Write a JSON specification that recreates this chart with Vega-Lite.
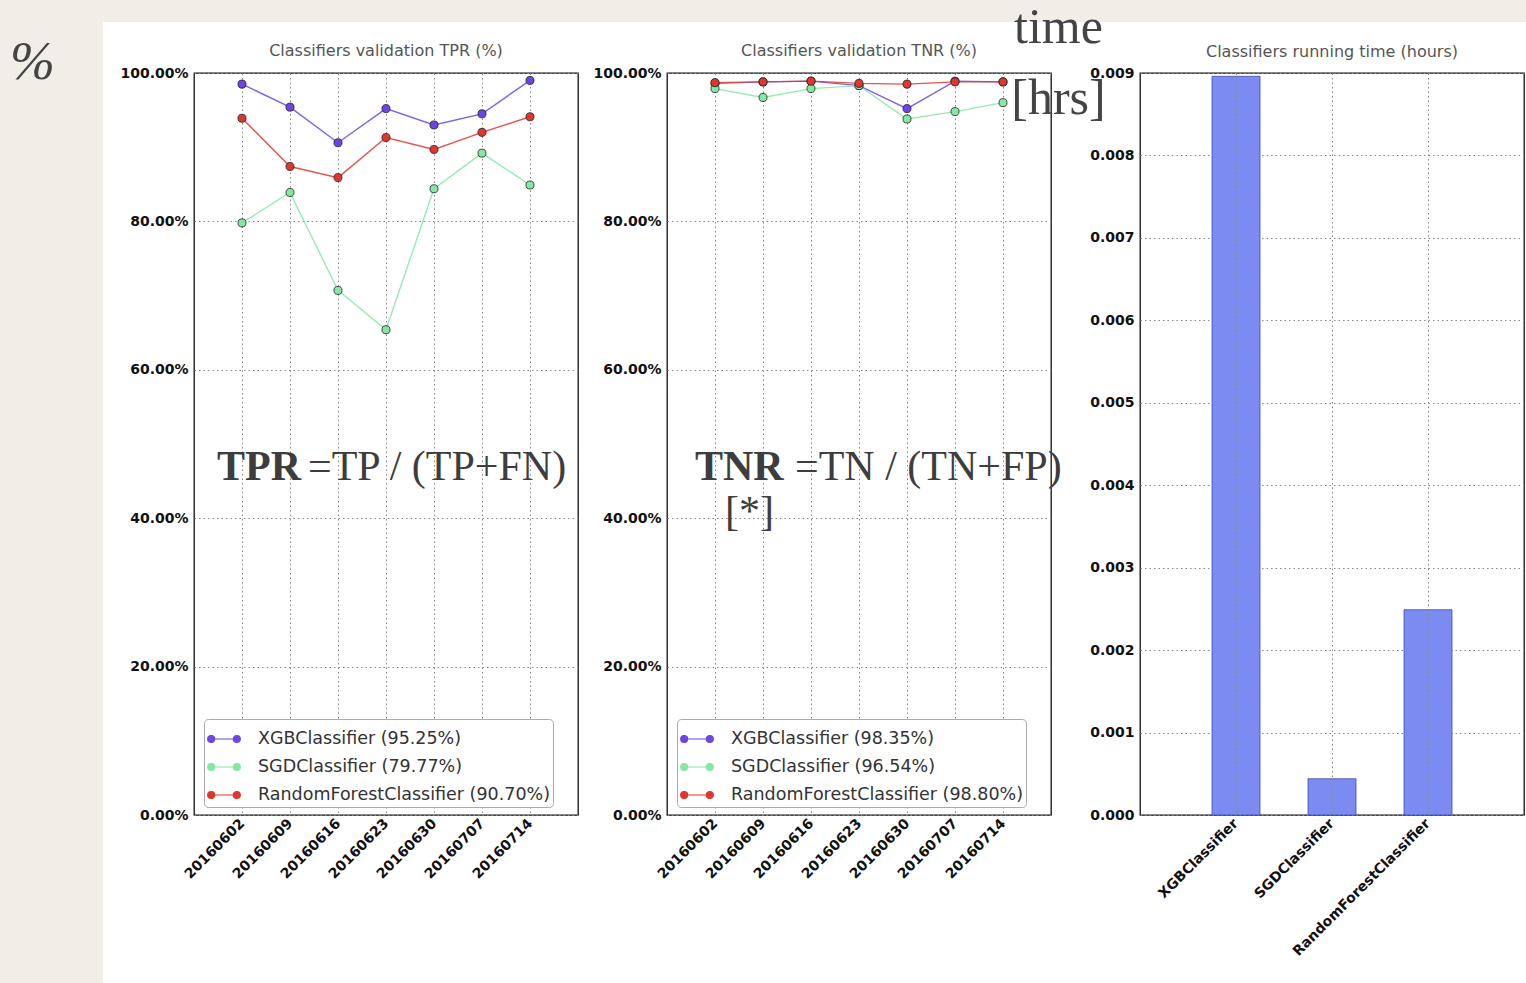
{
  "$schema": "https://vega.github.io/schema/vega-lite/v6.json",
  "background": "#ffffff",
  "padding": 0,
  "datasets": {
    "tpr": [
      {"date": "20160602", "series": "XGBClassifier (95.25%)", "value": 98.5},
      {"date": "20160609", "series": "XGBClassifier (95.25%)", "value": 95.4},
      {"date": "20160616", "series": "XGBClassifier (95.25%)", "value": 90.6},
      {"date": "20160623", "series": "XGBClassifier (95.25%)", "value": 95.2},
      {"date": "20160630", "series": "XGBClassifier (95.25%)", "value": 93.0},
      {"date": "20160707", "series": "XGBClassifier (95.25%)", "value": 94.5},
      {"date": "20160714", "series": "XGBClassifier (95.25%)", "value": 99.0},
      {"date": "20160602", "series": "SGDClassifier (79.77%)", "value": 79.8},
      {"date": "20160609", "series": "SGDClassifier (79.77%)", "value": 83.9},
      {"date": "20160616", "series": "SGDClassifier (79.77%)", "value": 70.7},
      {"date": "20160623", "series": "SGDClassifier (79.77%)", "value": 65.4},
      {"date": "20160630", "series": "SGDClassifier (79.77%)", "value": 84.4},
      {"date": "20160707", "series": "SGDClassifier (79.77%)", "value": 89.2},
      {"date": "20160714", "series": "SGDClassifier (79.77%)", "value": 84.9},
      {"date": "20160602", "series": "RandomForestClassifier (90.70%)", "value": 93.9},
      {"date": "20160609", "series": "RandomForestClassifier (90.70%)", "value": 87.4},
      {"date": "20160616", "series": "RandomForestClassifier (90.70%)", "value": 85.9},
      {"date": "20160623", "series": "RandomForestClassifier (90.70%)", "value": 91.3},
      {"date": "20160630", "series": "RandomForestClassifier (90.70%)", "value": 89.7},
      {"date": "20160707", "series": "RandomForestClassifier (90.70%)", "value": 92.0},
      {"date": "20160714", "series": "RandomForestClassifier (90.70%)", "value": 94.1}
    ],
    "tnr": [
      {"date": "20160602", "series": "XGBClassifier (98.35%)", "value": 98.6},
      {"date": "20160609", "series": "XGBClassifier (98.35%)", "value": 98.8},
      {"date": "20160616", "series": "XGBClassifier (98.35%)", "value": 98.9},
      {"date": "20160623", "series": "XGBClassifier (98.35%)", "value": 98.3},
      {"date": "20160630", "series": "XGBClassifier (98.35%)", "value": 95.2},
      {"date": "20160707", "series": "XGBClassifier (98.35%)", "value": 98.9},
      {"date": "20160714", "series": "XGBClassifier (98.35%)", "value": 98.8},
      {"date": "20160602", "series": "SGDClassifier (96.54%)", "value": 97.9},
      {"date": "20160609", "series": "SGDClassifier (96.54%)", "value": 96.7},
      {"date": "20160616", "series": "SGDClassifier (96.54%)", "value": 97.9},
      {"date": "20160623", "series": "SGDClassifier (96.54%)", "value": 98.3},
      {"date": "20160630", "series": "SGDClassifier (96.54%)", "value": 93.8},
      {"date": "20160707", "series": "SGDClassifier (96.54%)", "value": 94.8},
      {"date": "20160714", "series": "SGDClassifier (96.54%)", "value": 96.0},
      {"date": "20160602", "series": "RandomForestClassifier (98.80%)", "value": 98.7},
      {"date": "20160609", "series": "RandomForestClassifier (98.80%)", "value": 98.8},
      {"date": "20160616", "series": "RandomForestClassifier (98.80%)", "value": 98.9},
      {"date": "20160623", "series": "RandomForestClassifier (98.80%)", "value": 98.6},
      {"date": "20160630", "series": "RandomForestClassifier (98.80%)", "value": 98.5},
      {"date": "20160707", "series": "RandomForestClassifier (98.80%)", "value": 98.8},
      {"date": "20160714", "series": "RandomForestClassifier (98.80%)", "value": 98.8}
    ],
    "time": [
      {"clf": "XGBClassifier", "hours": 0.00896},
      {"clf": "SGDClassifier", "hours": 0.00044},
      {"clf": "RandomForestClassifier", "hours": 0.00249}
    ],
    "notes": [
      {"panel": "TPR", "part": "bold", "date": "20160602", "value": 45.1, "text": "TPR"},
      {"panel": "TPR", "part": "reg", "date": "20160602", "value": 45.1, "text": "=TP / (TP+FN)"},
      {"panel": "TNR", "part": "bold", "date": "20160602", "value": 45.1, "text": "TNR"},
      {"panel": "TNR", "part": "reg", "date": "20160602", "value": 45.1, "text": "=TN / (TN+FP)"},
      {"panel": "TNR", "part": "star", "date": "20160602", "value": 39.1, "text": "[*]"}
    ],
    "blank": [{}]
  },
  "bounds": "flush",
  "spacing": 0,
  "hconcat": [
    {
      "width": 103,
      "height": 983,
      "view": {"fill": "#f1eee8", "stroke": null},
      "data": {"name": "blank"},
      "mark": {"type": "text"},
      "encoding": {}
    },
    {
      "bounds": "flush",
      "spacing": 51,
      "vconcat": [
        {
          "width": 1423,
          "height": 22,
          "view": {"fill": "#f1eee8", "stroke": null},
          "data": {"name": "blank"},
          "mark": {"type": "text"},
          "encoding": {}
        },
        {
          "bounds": "flush",
          "spacing": 89,
          "resolve": {"scale": {"color": "independent", "x": "independent", "y": "independent"}, "legend": {"color": "independent"}},
          "hconcat": [
            {
              "width": 2,
              "height": 742,
              "view": {"stroke": null},
              "data": {"name": "blank"},
              "mark": {"type": "text"},
              "encoding": {}
            },
            {
              "width": 384,
              "height": 742,
              "title": {"text": "Classifiers validation TPR (%)", "dy": 36},
              "layer": [
                {
                  "data": {"name": "tpr"},
                  "mark": {"type": "line", "strokeWidth": 1.4, "opacity": 0.85},
                  "encoding": {
                    "x": {"field": "date", "type": "ordinal", "scale": {"type": "point", "padding": 1},
                      "axis": {"title": null, "labelAngle": -45, "labelAlign": "right", "labelBaseline": "middle", "labelPadding": 6}},
                    "y": {"field": "value", "type": "quantitative", "scale": {"domain": [0, 100], "nice": false},
                      "axis": {"values": [0, 20, 40, 60, 80, 100], "labelExpr": "format(datum.value, '.2f') + '%'",
                        "title": "%", "titleAngle": 0, "titleFont": "Liberation Serif", "titleFontStyle": "italic", "titleFontWeight": "normal",
                        "titleFontSize": 54, "titleColor": "#444", "titleX": -162, "titleY": 5, "titleAlign": "center", "titleBaseline": "alphabetic"}},
                    "color": {"field": "series", "type": "nominal", "sort": null,
                      "scale": {"domain": ["XGBClassifier (95.25%)", "SGDClassifier (79.77%)", "RandomForestClassifier (90.70%)"], "range": ["#6a45e8", "#86e6a2", "#e0362f"]},
                      "legend": {"orient": "none", "legendX": 10, "legendY": 646, "title": null, "fillColor": "#ffffff", "strokeColor": "#aaaaaa", "cornerRadius": 4, "padding": 3,
                        "labelFont": "DejaVu Sans", "labelFontSize": 17.5, "labelColor": "#333333", "labelLimit": 500, "rowPadding": 2, "labelOffset": 17,
                        "symbolType": "M-0.8,0L0.8,0M-1.02,0A0.22,0.22,0,1,0,-0.58,0A0.22,0.22,0,1,0,-1.02,0M0.58,0A0.22,0.22,0,1,0,1.02,0A0.22,0.22,0,1,0,0.58,0Z",
                        "symbolSize": 1024, "symbolStrokeWidth": 1.2, "symbolOpacity": 1}}
                  }
                },
                {
                  "data": {"name": "tpr"},
                  "mark": {"type": "point", "filled": true, "size": 65, "stroke": "#222222", "strokeWidth": 0.8, "opacity": 1},
                  "encoding": {
                    "x": {"field": "date", "type": "ordinal"},
                    "y": {"field": "value", "type": "quantitative"},
                    "color": {"field": "series", "type": "nominal", "sort": null}
                  }
                },
                {
                  "data": {"name": "notes"},
                  "transform": [{"filter": "datum.panel === 'TPR' && datum.part === 'bold'"}],
                  "mark": {"type": "text", "font": "Liberation Serif", "fontSize": 42, "fontWeight": "bold", "color": "#3d3d3d", "align": "left", "baseline": "alphabetic", "dx": -25},
                  "encoding": {"x": {"field": "date", "type": "ordinal"}, "y": {"field": "value", "type": "quantitative"}, "text": {"field": "text"}}
                },
                {
                  "data": {"name": "notes"},
                  "transform": [{"filter": "datum.panel === 'TPR' && datum.part === 'reg'"}],
                  "mark": {"type": "text", "font": "Liberation Serif", "fontSize": 42, "color": "#3d3d3d", "align": "left", "baseline": "alphabetic", "dx": 66},
                  "encoding": {"x": {"field": "date", "type": "ordinal"}, "y": {"field": "value", "type": "quantitative"}, "text": {"field": "text"}}
                }
              ]
            },
            {
              "width": 384,
              "height": 742,
              "title": {"text": "Classifiers validation TNR (%)", "dy": 5},
              "layer": [
                {
                  "data": {"name": "tnr"},
                  "mark": {"type": "line", "strokeWidth": 1.4, "opacity": 0.85},
                  "encoding": {
                    "x": {"field": "date", "type": "ordinal", "scale": {"type": "point", "padding": 1},
                      "axis": {"title": null, "labelAngle": -45, "labelAlign": "right", "labelBaseline": "middle", "labelPadding": 6}},
                    "y": {"field": "value", "type": "quantitative", "scale": {"domain": [0, 100], "nice": false},
                      "axis": {"values": [0, 20, 40, 60, 80, 100], "labelExpr": "format(datum.value, '.2f') + '%'", "title": null}},
                    "color": {"field": "series", "type": "nominal", "sort": null,
                      "scale": {"domain": ["XGBClassifier (98.35%)", "SGDClassifier (96.54%)", "RandomForestClassifier (98.80%)"], "range": ["#6a45e8", "#86e6a2", "#e0362f"]},
                      "legend": {"orient": "none", "legendX": 10, "legendY": 646, "title": null, "fillColor": "#ffffff", "strokeColor": "#aaaaaa", "cornerRadius": 4, "padding": 3,
                        "labelFont": "DejaVu Sans", "labelFontSize": 17.5, "labelColor": "#333333", "labelLimit": 500, "rowPadding": 2, "labelOffset": 17,
                        "symbolType": "M-0.8,0L0.8,0M-1.02,0A0.22,0.22,0,1,0,-0.58,0A0.22,0.22,0,1,0,-1.02,0M0.58,0A0.22,0.22,0,1,0,1.02,0A0.22,0.22,0,1,0,0.58,0Z",
                        "symbolSize": 1024, "symbolStrokeWidth": 1.2, "symbolOpacity": 1}}
                  }
                },
                {
                  "data": {"name": "tnr"},
                  "mark": {"type": "point", "filled": true, "size": 65, "stroke": "#222222", "strokeWidth": 0.8, "opacity": 1},
                  "encoding": {
                    "x": {"field": "date", "type": "ordinal"},
                    "y": {"field": "value", "type": "quantitative"},
                    "color": {"field": "series", "type": "nominal", "sort": null}
                  }
                },
                {
                  "data": {"name": "notes"},
                  "transform": [{"filter": "datum.panel === 'TNR' && datum.part === 'bold'"}],
                  "mark": {"type": "text", "font": "Liberation Serif", "fontSize": 42, "fontWeight": "bold", "color": "#3d3d3d", "align": "left", "baseline": "alphabetic", "dx": -20},
                  "encoding": {"x": {"field": "date", "type": "ordinal"}, "y": {"field": "value", "type": "quantitative"}, "text": {"field": "text"}}
                },
                {
                  "data": {"name": "notes"},
                  "transform": [{"filter": "datum.panel === 'TNR' && datum.part === 'reg'"}],
                  "mark": {"type": "text", "font": "Liberation Serif", "fontSize": 42, "color": "#3d3d3d", "align": "left", "baseline": "alphabetic", "dx": 80},
                  "encoding": {"x": {"field": "date", "type": "ordinal"}, "y": {"field": "value", "type": "quantitative"}, "text": {"field": "text"}}
                },
                {
                  "data": {"name": "notes"},
                  "transform": [{"filter": "datum.panel === 'TNR' && datum.part === 'star'"}],
                  "mark": {"type": "text", "font": "Liberation Serif", "fontSize": 42, "color": "#3d3d3d", "align": "left", "baseline": "alphabetic", "dx": 10},
                  "encoding": {"x": {"field": "date", "type": "ordinal"}, "y": {"field": "value", "type": "quantitative"}, "text": {"field": "text"}}
                }
              ]
            },
            {
              "width": 384,
              "height": 742,
              "title": {"text": "Classifiers running time (hours)", "dy": 70},
              "data": {"name": "time"},
              "mark": {"type": "bar", "fill": "#7b8bf2", "stroke": "#3f4fa8", "strokeWidth": 0.8},
              "encoding": {
                "x": {"field": "clf", "type": "nominal", "sort": null, "scale": {"paddingInner": 0.5, "paddingOuter": 0.75},
                  "axis": {"title": null, "labelAngle": -45, "labelAlign": "right", "labelBaseline": "middle", "labelPadding": 6, "labelLimit": 400, "bandPosition": 0.5, "zindex": 1}},
                "y": {"field": "hours", "type": "quantitative", "scale": {"domain": [0, 0.009], "nice": false},
                  "axis": {"values": [0, 0.001, 0.002, 0.003, 0.004, 0.005, 0.006, 0.007, 0.008, 0.009], "format": ".3f",
                    "title": ["time", "[hrs]"], "titleAngle": 0, "titleFont": "Liberation Serif", "titleFontWeight": "normal", "titleFontSize": 50,
                    "titleColor": "#444", "titleX": -82, "titleY": -31, "titleAlign": "center", "titleBaseline": "alphabetic", "titleLineHeight": 71}}
              }
            }
          ]
        }
      ]
    }
  ],
  "config": {
    "font": "DejaVu Sans",
    "view": {"stroke": "#111111", "strokeWidth": 1.3},
    "axis": {"labelFont": "DejaVu Sans", "labelFontSize": 14, "labelFontWeight": "bold", "labelColor": "#111111", "domain": false, "ticks": false,
      "grid": true, "gridColor": "#888888", "gridDash": [1.5, 3], "gridWidth": 1, "labelPadding": 6},
    "title": {"font": "DejaVu Sans", "fontSize": 16, "fontWeight": "normal", "color": "#555555", "offset": 12}
  }
}
